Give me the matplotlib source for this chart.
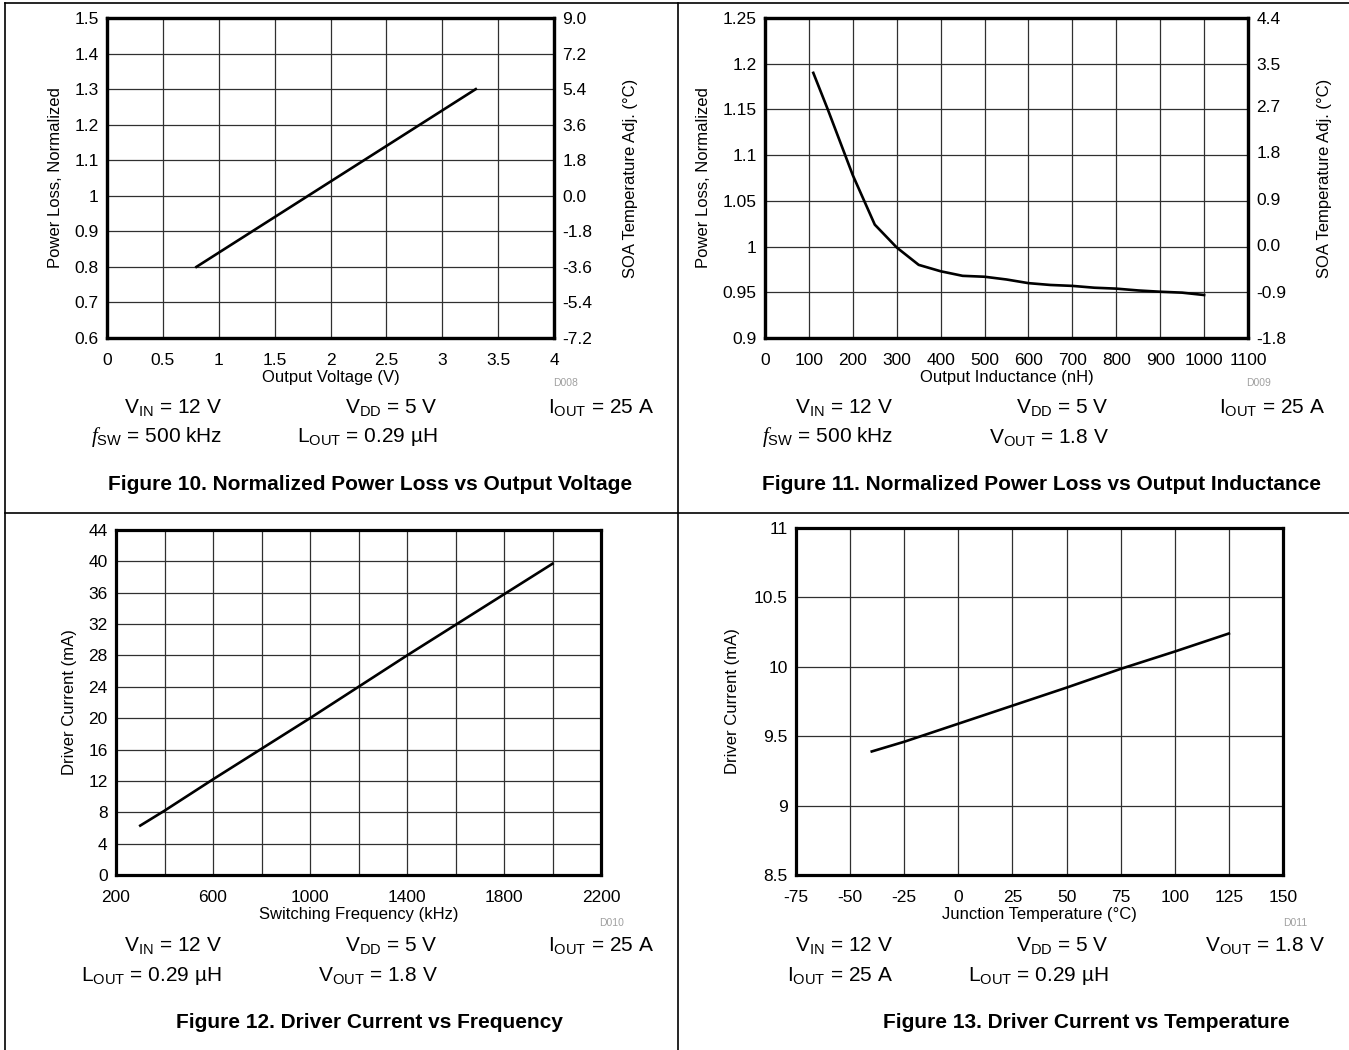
import matplotlib
matplotlib.use('Agg')
import matplotlib.pyplot as plt
from matplotlib.ticker import MultipleLocator

W, H = 1349, 1050

# --- data ---
vout_v = [0.8, 1.2, 1.8, 2.5, 3.3]
vout_loss = [0.8, 0.88, 1.0, 1.14, 1.3]

ind_nh = [110, 143, 200, 250, 300, 350, 400, 450, 500, 550, 600, 650, 700, 750, 800, 850, 900, 950, 1000]
ind_loss = [1.19, 1.15, 1.078, 1.024, 0.999, 0.980, 0.973, 0.968, 0.967, 0.964, 0.960, 0.958, 0.957,
            0.955, 0.954, 0.952, 0.9506, 0.9496, 0.947]

freq_khz = [300, 400, 600, 800, 1000, 1200, 1400, 1600, 1800, 2000]
freq_ma = [6.3, 8.2, 12.2, 16.1, 20.0, 24.0, 28.0, 31.9, 35.8, 39.7]

temp_c = [-40, -25, 0, 25, 50, 75, 100, 125]
temp_ma = [9.39, 9.46, 9.59, 9.72, 9.85, 9.985, 10.11, 10.24]

plt.rcParams['font.family'] = ['Liberation Sans', 'DejaVu Sans']
plt.rcParams['mathtext.fontset'] = 'custom'
plt.rcParams['mathtext.rm'] = 'Liberation Sans'
plt.rcParams['mathtext.it'] = 'Liberation Serif:italic'
plt.rcParams['axes.unicode_minus'] = False

TICK = 12.5
LAB = 12

fig = plt.figure(figsize=(W / 100, H / 100), dpi=100)


def fx(x):
    return x / W


def fy(y):
    return 1 - y / H


def make_axes(l, t, r, b):
    ax = fig.add_axes([fx(l), fy(b), (r - l) / W, (b - t) / H])
    for s in ax.spines.values():
        s.set_linewidth(2.3)
    ax.tick_params(which='both', length=0, labelsize=TICK)
    ax.tick_params(axis='x', pad=11)
    ax.tick_params(axis='y', pad=6)
    ax.grid(True, which='both', color='#303030', linewidth=0.9)
    ax.set_axisbelow(True)
    return ax


def right_axis(ax, lo, hi, ticks, labels):
    ax2 = ax.twinx()
    ax2.set_ylim(lo, hi)
    ax2.set_yticks(ticks)
    ax2.set_yticklabels(labels)
    ax2.tick_params(length=0, pad=6, labelsize=TICK)
    ax2.set_ylabel('SOA Temperature Adj. (°C)', fontsize=LAB, labelpad=22)
    for s in ax2.spines.values():
        s.set_linewidth(2.3)
    return ax2


def line(a, b, c, d):
    fig.add_artist(plt.Line2D([fx(a), fx(c)], [fy(b), fy(d)], color='black', lw=1.2))


# panel borders
line(5, 3, W, 3)
line(5, 3, 5, H)
line(678, 3, 678, H)
line(5, 513, W, 513)

VIN = r'V$_{\mathregular{IN}}$ = 12 V'
VDD = r'V$_{\mathregular{DD}}$ = 5 V'
IOUT = r'I$_{\mathregular{OUT}}$ = 25 A'
VOUT = r'V$_{\mathregular{OUT}}$ = 1.8 V'
LOUT = r'L$_{\mathregular{OUT}}$ = 0.29 µH'
FSW = r'$\mathit{f}$$_{\mathregular{SW}}$ = 500 kHz'


def conditions(x0, ytop, row1, row2, code, codex, codey, caption, capx):
    cols = [x0 + 222, x0 + 438, x0 + 654]
    for c, s in zip(cols, row1):
        fig.text(fx(c), fy(ytop), s, ha='right', va='center', fontsize=15)
    for c, s in zip(cols, row2):
        fig.text(fx(c), fy(ytop + 30), s, ha='right', va='center', fontsize=15)
    fig.text(fx(codex), fy(codey), code, ha='center', va='center', fontsize=7.5, color='#a0a0a0')
    fig.text(fx(capx), fy(ytop + 77), caption, ha='center', va='center', fontsize=15,
             fontweight='bold')


# Figure 10
ax = make_axes(107, 18, 554, 338)
ax.plot(vout_v, vout_loss, color='black', lw=1.9)
ax.set_xlim(0, 4)
ax.set_ylim(0.6, 1.5)
ax.set_xticks([0, 0.5, 1, 1.5, 2, 2.5, 3, 3.5, 4])
ax.set_xticklabels(['0', '0.5', '1', '1.5', '2', '2.5', '3', '3.5', '4'])
ax.set_yticks([0.6, 0.7, 0.8, 0.9, 1.0, 1.1, 1.2, 1.3, 1.4, 1.5])
ax.set_yticklabels(['0.6', '0.7', '0.8', '0.9', '1', '1.1', '1.2', '1.3', '1.4', '1.5'])
ax.set_xlabel('Output Voltage (V)', fontsize=LAB, labelpad=1)
ax.set_ylabel('Power Loss, Normalized', fontsize=LAB, labelpad=8)
right_axis(ax, -7.2, 9.0, [-7.2, -5.4, -3.6, -1.8, 0.0, 1.8, 3.6, 5.4, 7.2, 9.0],
           ['-7.2', '-5.4', '-3.6', '-1.8', '0.0', '1.8', '3.6', '5.4', '7.2', '9.0'])
conditions(0, 407, [VIN, VDD, IOUT], [FSW, LOUT], 'D008', 566, 383,
           'Figure 10. Normalized Power Loss vs Output Voltage', 370)

# Figure 11
ax = make_axes(765, 18, 1248, 338)
ax.plot(ind_nh, ind_loss, color='black', lw=1.9)
ax.set_xlim(0, 1100)
ax.set_ylim(0.9, 1.25)
ax.set_xticks(range(0, 1101, 100))
ax.set_yticks([0.9, 0.95, 1.0, 1.05, 1.1, 1.15, 1.2, 1.25])
ax.set_yticklabels(['0.9', '0.95', '1', '1.05', '1.1', '1.15', '1.2', '1.25'])
ax.set_xlabel('Output Inductance (nH)', fontsize=LAB, labelpad=1)
ax.set_ylabel('Power Loss, Normalized', fontsize=LAB, labelpad=8)
right_axis(ax, -1.8, 4.4, [-1.8, -0.9, 0.0, 0.9, 1.8, 2.7, 3.5, 4.4],
           ['-1.8', '-0.9', '0.0', '0.9', '1.8', '2.7', '3.5', '4.4'])
conditions(671, 407, [VIN, VDD, IOUT], [FSW, VOUT], 'D009', 1259, 383,
           'Figure 11. Normalized Power Loss vs Output Inductance', 1041)

# Figure 12
ax = make_axes(116, 530, 601, 875)
ax.plot(freq_khz, freq_ma, color='black', lw=1.9)
ax.set_xlim(200, 2200)
ax.set_ylim(0, 44)
ax.set_xticks(range(200, 2201, 400))
ax.set_xticks(range(400, 2200, 400), minor=True)
ax.set_yticks(range(0, 45, 4))
ax.set_xlabel('Switching Frequency (kHz)', fontsize=LAB, labelpad=1)
ax.set_ylabel('Driver Current (mA)', fontsize=LAB, labelpad=8)
conditions(0, 946, [VIN, VDD, IOUT], [LOUT, VOUT], 'D010', 612, 923,
           'Figure 12. Driver Current vs Frequency', 369)

# Figure 13
ax = make_axes(796, 528, 1283, 875)
ax.plot(temp_c, temp_ma, color='black', lw=1.9)
ax.set_xlim(-75, 150)
ax.set_ylim(8.5, 11)
ax.set_xticks(range(-75, 151, 25))
ax.set_yticks([8.5, 9, 9.5, 10, 10.5, 11])
ax.set_yticklabels(['8.5', '9', '9.5', '10', '10.5', '11'])
ax.set_xlabel('Junction Temperature (°C)', fontsize=LAB, labelpad=1)
ax.set_ylabel('Driver Current (mA)', fontsize=LAB, labelpad=10)
conditions(671, 946, [VIN, VDD, VOUT], [IOUT, LOUT], 'D011', 1295, 923,
           'Figure 13. Driver Current vs Temperature', 1086)

fig.savefig('out.png', dpi=100)
